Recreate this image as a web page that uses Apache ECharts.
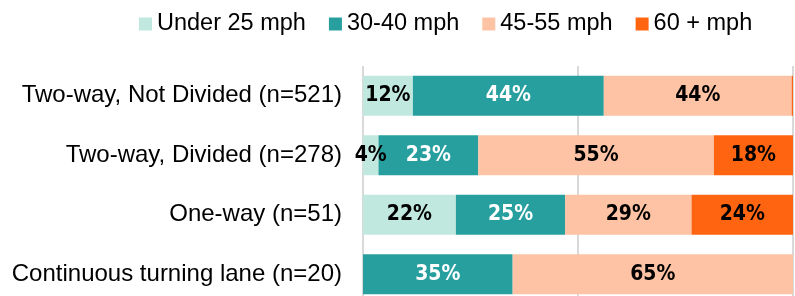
<!DOCTYPE html>
<html>
<head>
<meta charset="utf-8">
<script src="https://cdn.jsdelivr.net/npm/echarts@6/dist/echarts.min.js"></script>
<style>
  html, body { margin: 0; padding: 0; background: #fff; }
  #chart { width: 795px; height: 296px; }
</style>
</head>
<body>
<div id="chart"></div>
<script>
// road type categories, top to bottom
const categories = [
  'Two-way, Not Divided (n=521)',
  'Two-way, Divided (n=278)',
  'One-way (n=51)',
  'Continuous turning lane (n=20)'
]
const seriesNames = ['Under 25 mph', '30-40 mph', '45-55 mph', '60 + mph']
const under25 = [11.6, 3.6, 21.6, 0]
const mph3040 = [44.4, 23.2, 25.4, 34.8]
const mph4555 = [43.7, 54.8, 29.4, 65.2]
const mph60 = [0.3, 18.4, 23.6, 0]
const colors = ['#c1e8df', '#279f9f', '#fdc3a4', '#ff6511']
const labelColors = ['#000', '#fff', '#000', '#000']

const chart = echarts.init(document.getElementById('chart'))

const getSeries = function() {
  const values = [under25, mph3040, mph4555, mph60]
  return values.map(function(data, i) {
    return {
      name: seriesNames[i],
      type: 'bar',
      stack: 'total',
      barWidth: 40,
      data: data,
      itemStyle: { color: colors[i] },
      label: {
        show: true,
        position: 'inside',
        color: labelColors[i],
        fontFamily: '"DejaVu Sans Condensed", "Liberation Sans Narrow", sans-serif',
        fontWeight: 'bold',
        fontSize: 21,
        formatter: function(p) {
          return p.value < 1 ? '' : Math.round(p.value) + '%'
        }
      },
      animation: false
    }
  })
}

chart.setOption({
  color: colors,
  textStyle: { fontFamily: '"Liberation Sans", Arial, sans-serif' },
  legend: {
    top: 12,
    left: 139,
    padding: 0,
    itemWidth: 13,
    itemHeight: 13,
    itemGap: 23,
    icon: 'rect',
    textStyle: { fontSize: 23.5, color: '#000' },
    data: seriesNames
  },
  grid: {
    left: 363,
    right: 2,
    top: 66,
    height: 238,
    outerBoundsMode: 'none'
  },
  xAxis: {
    type: 'value',
    min: 0,
    max: 100,
    interval: 50,
    axisLabel: { show: false },
    axisLine: { show: false },
    axisTick: { show: false },
    splitLine: { show: true, lineStyle: { color: '#d9d9d9', width: 2 } }
  },
  yAxis: {
    type: 'category',
    inverse: true,
    data: categories,
    axisLine: { show: false },
    axisTick: { show: false },
    axisLabel: { fontSize: 24, color: '#000', margin: 21 }
  },
  series: getSeries()
})
</script>
</body>
</html>
